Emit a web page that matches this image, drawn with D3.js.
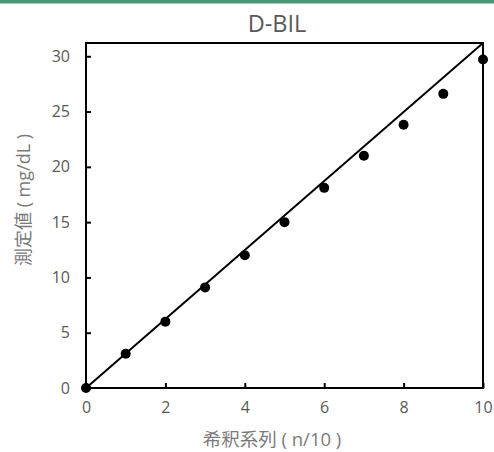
<!DOCTYPE html>
<html>
<head>
<meta charset="utf-8">
<script src="https://cdn.jsdelivr.net/npm/d3@7"></script>
<style>
  html, body { margin: 0; padding: 0; background: #fff; }
  svg { display: block; }
  text { font-family: "Open Sans", "Noto Sans CJK JP", sans-serif; }
</style>
</head>
<body>
<svg id="chart" width="494" height="452"></svg>
<script>
const dilution = [0, 1, 2, 3, 4, 5, 6, 7, 8, 9, 10];
const measured = [0, 3.1, 6.0, 9.1, 12.0, 15.0, 18.1, 21.0, 23.8, 26.6, 29.7];
const lineX = [0, 10];
const lineY = [0, 31.2];
const xTicks = [0, 2, 4, 6, 8, 10];
const yTicks = [0, 5, 10, 15, 20, 25, 30];
const titleText = "D-BIL";
const xTitle = "希釈系列 ( n/10 )";
const yTitle = "測定値 ( mg/dL )";

const svg = d3.select("#chart");
const m = { left: 86, right: 483, top: 43, bottom: 388 };

svg.append("rect").attr("x", 0).attr("y", 0).attr("width", 494).attr("height", 3.5).attr("fill", "#4a9672");

const x = d3.scaleLinear().domain([0, 10]).range([m.left, m.right]);
const y = d3.scaleLinear().domain([0, 31.2]).range([m.bottom, m.top]);

// plot frame
svg.append("rect").attr("x", m.left).attr("y", m.top)
  .attr("width", m.right - m.left).attr("height", m.bottom - m.top)
  .attr("fill", "none").attr("stroke", "#000").attr("stroke-width", 2);

// axes
const xAxis = d3.axisBottom(x).tickValues(xTicks).tickSize(-5).tickPadding(14).tickFormat(d3.format("d"));
const gx = svg.append("g").attr("transform", `translate(0,${m.bottom})`).call(xAxis);
gx.select(".domain").remove();
gx.selectAll(".tick line").attr("stroke", "#000").attr("stroke-width", 2);
gx.selectAll(".tick text").attr("fill", "#595959").attr("font-size", 16).attr("dy", "0.71em");

const yAxis = d3.axisLeft(y).tickValues(yTicks).tickSize(-5).tickPadding(16).tickFormat(d3.format("d"));
const gy = svg.append("g").attr("transform", `translate(${m.left},0)`).call(yAxis);
gy.select(".domain").remove();
gy.selectAll(".tick line").attr("stroke", "#000").attr("stroke-width", 2);
gy.selectAll(".tick text").attr("fill", "#595959").attr("font-size", 16);

// reference line
const line = d3.line().x((d, i) => x(lineX[i])).y(d => y(d));
svg.append("path").datum(lineY).attr("d", line)
  .attr("fill", "none").attr("stroke", "#000").attr("stroke-width", 2);

// points
svg.append("g").selectAll("circle").data(measured).join("circle")
  .attr("cx", (d, i) => x(dilution[i])).attr("cy", d => y(d))
  .attr("r", 5).attr("fill", "#000");

// titles
svg.append("text").attr("x", 277).attr("y", 32).attr("text-anchor", "middle")
  .attr("font-size", 23.5).attr("fill", "#595959").text(titleText);
svg.append("text").attr("x", 272).attr("y", 446).attr("text-anchor", "middle")
  .attr("font-size", 18.5).attr("fill", "#7a7a7a").text(xTitle);
svg.append("text").attr("transform", "translate(30,200) rotate(-90)").attr("text-anchor", "middle")
  .attr("font-size", 18).attr("fill", "#7a7a7a").text(yTitle);
</script>
</body>
</html>
